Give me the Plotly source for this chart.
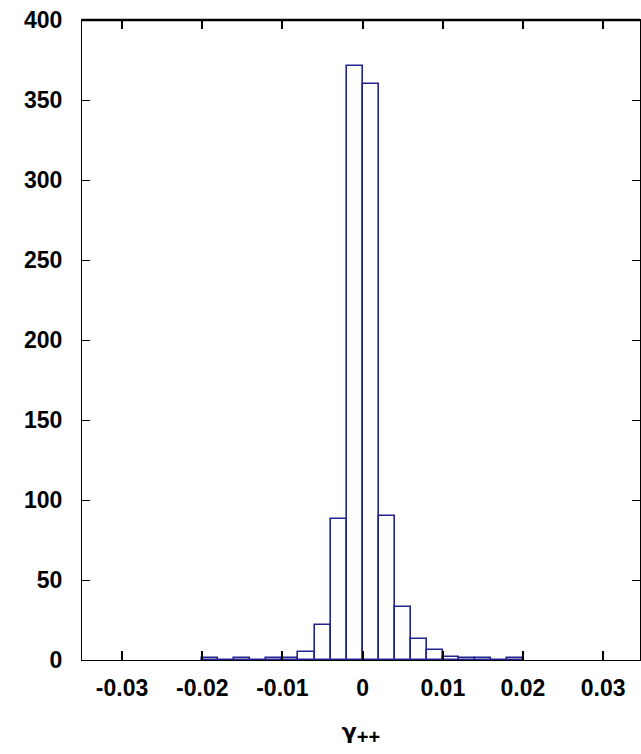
import plotly.graph_objects as go

# Histogram data (bin centers, counts)
bin_centers = [-0.019, -0.017, -0.015, -0.013, -0.011, -0.009, -0.007, -0.005, -0.003, -0.001,
               0.001, 0.003, 0.005, 0.007, 0.009, 0.011, 0.013, 0.015, 0.017, 0.019]
counts = [1, 0, 1, 0, 1, 1, 5, 22, 88, 371,
          360, 90, 33, 13, 6, 2, 1, 1, 0, 1]
bin_width = 0.002

x_tick_vals = [-0.03, -0.02, -0.01, 0, 0.01, 0.02, 0.03]
x_tick_text = ["-0.03", "-0.02", "-0.01", "0", "0.01", "0.02", "0.03"]
y_tick_vals = [0, 50, 100, 150, 200, 250, 300, 350, 400]

LINE = "#23238f"
FONT = "Liberation Sans"

fig = go.Figure()
fig.add_trace(go.Bar(
    x=bin_centers, y=counts, width=[bin_width] * len(bin_centers),
    marker=dict(color="white", line=dict(color=LINE, width=1.6)),
    showlegend=False,
))

fig.update_layout(
    width=641, height=754,
    margin=dict(l=82, r=1, t=20, b=94),
    plot_bgcolor="white", paper_bgcolor="white",
    bargap=0,
    font=dict(family=FONT, size=23, color="black"),
)
fig.update_xaxes(
    range=[-0.035, 0.0346], tickvals=x_tick_vals, ticktext=x_tick_text,
    showgrid=False, zeroline=False, showline=True, linecolor="black", linewidth=1,
    mirror="allticks", ticks="inside", ticklen=9, tickcolor="black", tickwidth=1.5,
    tickfont=dict(family=FONT, size=23, color="black", weight="bold"),
    ticklabelstandoff=7,
    title=dict(text="<span style='font-family:DejaVu Sans'>γ</span><sub><span style='font-size:20px'>++</span></sub>",
               font=dict(family=FONT, size=22, color="black", weight="bold"), standoff=24),
)
fig.update_yaxes(
    range=[0, 400], tickvals=y_tick_vals,
    showgrid=False, zeroline=False, showline=True, linecolor="black", linewidth=1,
    mirror="allticks", ticks="inside", ticklen=8, tickcolor="black", tickwidth=1,
    tickfont=dict(family=FONT, size=23, color="black", weight="bold"),
    ticklabelstandoff=14,
)
# thicker top border
fig.add_shape(type="line", xref="paper", yref="paper", x0=0, x1=1, y0=1, y1=1,
              line=dict(color="black", width=2.5))

fig.write_html("out.html")
